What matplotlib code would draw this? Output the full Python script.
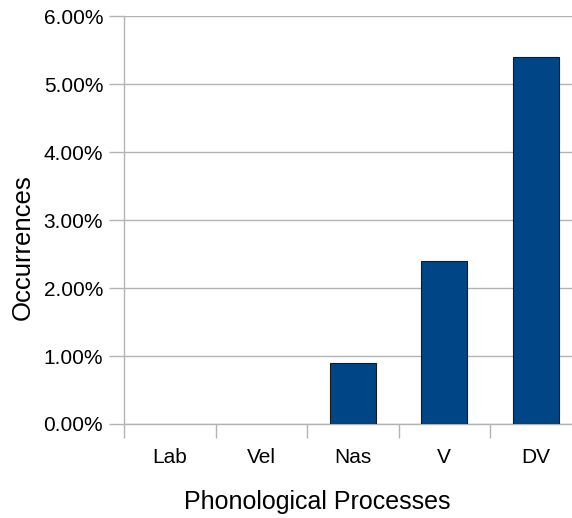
import numpy as np
import matplotlib as mpl
mpl.use('Agg')
import matplotlib.pyplot as plt
from matplotlib.ticker import FuncFormatter, MultipleLocator, FixedLocator

# Daten
categories = ['Lab', 'Vel', 'Nas', 'V', 'DV']
occurrences = [0.0, 0.0, 0.9, 2.4, 5.4]   # Prozent

plt.rcParams['font.family'] = ['Liberation Sans', 'DejaVu Sans']

fig = plt.figure(figsize=(5.72, 5.18), dpi=100)
ax = fig.add_axes([0.2168, 0.1815, 0.80, 0.7868])

grey = '#b3b3b3'
x = np.arange(len(categories))
# Balken mit Höhe 0 ohne Rand zeichnen
lw = [0.8 if v > 0 else 0 for v in occurrences]
ax.bar(x, occurrences, width=0.5, color='#004586', edgecolor='#1a1a1a',
       linewidth=lw, zorder=3)

ax.set_xlim(-0.5, len(categories) - 0.5)
ax.set_ylim(0, 6)

# y-Achse: Gitter alle 1 %
ax.yaxis.set_major_locator(MultipleLocator(1))
ax.yaxis.set_major_formatter(FuncFormatter(lambda v, p: f'{v:.2f}%'))
ax.grid(axis='y', color=grey, linewidth=1.0, zorder=0)
ax.tick_params(axis='y', length=11, color=grey, width=1.0, labelsize=15, pad=4)

# x-Achse: Beschriftung in der Mitte, Striche an den Grenzen
ax.set_xticks(x)
ax.set_xticklabels(categories)
ax.tick_params(axis='x', which='major', length=0, labelsize=15, pad=17)
ax.xaxis.set_minor_locator(FixedLocator(np.arange(-0.5, len(categories), 1.0)))
ax.tick_params(axis='x', which='minor', length=10, color=grey, width=1.0)

for side in ['top', 'right']:
    ax.spines[side].set_visible(False)
for side in ['left', 'bottom']:
    ax.spines[side].set_color(grey)
    ax.spines[side].set_linewidth(1.0)

fig.text(0.555, 1 - 502 / 518, 'Phonological Processes', fontsize=18,
         ha='center', va='center')
fig.text(23 / 572, 1 - 247 / 518, 'Occurrences', fontsize=18.5,
         ha='center', va='center', rotation=90)

fig.savefig('out.png', dpi=100)
